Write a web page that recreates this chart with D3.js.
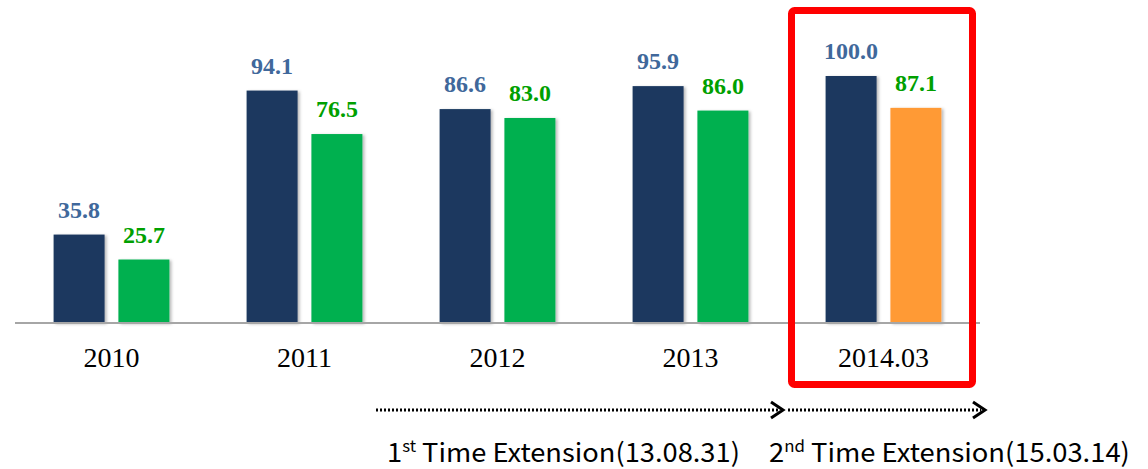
<!DOCTYPE html>
<html><head><meta charset="utf-8">
<script src="https://cdn.jsdelivr.net/npm/d3@7"></script>
<style>html,body{margin:0;padding:0;background:#fff;}svg{display:block;}</style>
</head><body>
<svg id="chart" width="1148" height="469"></svg>
<script>
const categories = ["2010", "2011", "2012", "2013", "2014.03"];
const seriesPlan = [35.8, 94.1, 86.6, 95.9, 100.0];
const seriesActual = [25.7, 76.5, 83.0, 86.0, 87.1];
const extensions = [
  {ord: "1", sup: "st", rest: " Time Extension(13.08.31)"},
  {ord: "2", sup: "nd", rest: " Time Extension(15.03.14)"}
];

const svg = d3.select("#chart");
const defs = svg.append("defs");
const f = defs.append("filter").attr("id", "sh").attr("x", "-20%").attr("y", "-20%").attr("width", "150%").attr("height", "150%");
f.append("feDropShadow").attr("dx", 2).attr("dy", 1).attr("stdDeviation", 1.8).attr("flood-color", "#000").attr("flood-opacity", 0.28);

const x = d3.scaleBand().domain(categories).range([15, 980]).padding(0);
const bw = x.bandwidth();
const x1 = d3.scaleBand().domain(["plan", "actual"]).range([bw * 0.2, bw * 0.8]).paddingInner(0.213).paddingOuter(0);
const y = d3.scaleLinear().domain([0, 100]).range([323, 76]);

const colPlan = "#1B375E", colAct = "#00B050", colLast = "#FF9A36";
const labPlan = "#40689B", labAct = "#00A000";

const data = categories.map((c, i) => ({c, i, plan: seriesPlan[i], actual: seriesActual[i]}));

const g = svg.append("g");
const groups = g.selectAll("g.grp").data(data).join("g").attr("transform", d => `translate(${x(d.c)},0)`);

groups.append("rect")
  .attr("x", x1("plan")).attr("width", x1.bandwidth())
  .attr("y", d => y(d.plan)).attr("height", d => y(0) - y(d.plan))
  .attr("fill", colPlan).attr("filter", "url(#sh)");
groups.append("rect")
  .attr("x", x1("actual")).attr("width", x1.bandwidth())
  .attr("y", d => y(d.actual)).attr("height", d => y(0) - y(d.actual))
  .attr("fill", (d, i) => i === categories.length - 1 ? colLast : colAct).attr("filter", "url(#sh)");

groups.append("text")
  .attr("x", x1("plan") + x1.bandwidth() / 2).attr("y", d => y(d.plan) - 17)
  .attr("text-anchor", "middle").attr("font-family", "'Liberation Serif', serif").attr("font-weight", "bold")
  .attr("font-size", 24).attr("fill", labPlan).text(d => d.plan.toFixed(1));
groups.append("text")
  .attr("x", x1("actual") + x1.bandwidth() / 2).attr("y", d => y(d.actual) - 17)
  .attr("text-anchor", "middle").attr("font-family", "'Liberation Serif', serif").attr("font-weight", "bold")
  .attr("font-size", 24).attr("fill", labAct).text(d => d.actual.toFixed(1));

// axis
const axis = d3.axisBottom(x).tickSize(0).tickPadding(0);
const ax = svg.append("g").attr("transform", `translate(0,${y(0)})`).call(axis);
ax.select(".domain").attr("stroke", "#A6A6A6").attr("stroke-width", 2).attr("d", `M15,0H980`);
ax.selectAll(".tick text").attr("dy", null).attr("y", 44)
  .attr("font-family", "'Liberation Serif', serif").attr("font-size", 28).attr("fill", "#000");

// highlight box
const last = categories[categories.length - 1];
svg.append("rect")
  .attr("x", x(last) + 4.5).attr("y", 10.5)
  .attr("width", bw - 12).attr("height", 374)
  .attr("rx", 3).attr("fill", "none").attr("stroke", "#FF0000").attr("stroke-width", 7);

// arrows
const arrows = [[376, 783], [788, 985]];
const ay = 410;
arrows.forEach(([a, b]) => {
  svg.append("line").attr("x1", a).attr("x2", b - 4).attr("y1", ay).attr("y2", ay)
    .attr("stroke", "#000").attr("stroke-width", 3).attr("stroke-dasharray", "2,2");
  svg.append("path").attr("d", `M${b - 12},${ay - 8}L${b},${ay}L${b - 12},${ay + 8}`)
    .attr("fill", "none").attr("stroke", "#000").attr("stroke-width", 3);
});

// extension labels
const labelPos = [[387, 740], [769, 1130]];
extensions.forEach((e, i) => {
  const t = svg.append("text").attr("x", 0).attr("y", 0)
    .attr("font-family", "'Noto Sans CJK KR', 'Noto Sans', sans-serif").attr("font-size", 26).attr("fill", "#000");
  t.append("tspan").text(e.ord);
  t.append("tspan").attr("font-size", 16).attr("dy", -10).text(e.sup);
  t.append("tspan").attr("dy", 10).text(e.rest);
  const w = t.node().getComputedTextLength();
  const [a, b] = labelPos[i];
  const sx = (b - a) / w;
  t.attr("transform", `translate(${a},462) scale(${sx},1)`);
});
</script>
</body></html>
